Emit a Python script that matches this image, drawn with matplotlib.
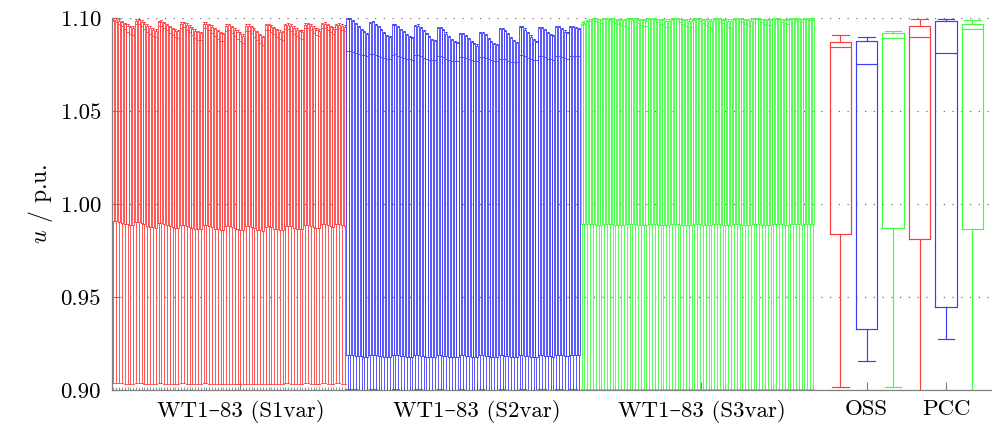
import matplotlib
matplotlib.use('Agg')
import matplotlib.pyplot as plt
import numpy as np

plt.rcParams['font.family'] = ['cmr10', 'DejaVu Serif']
plt.rcParams['mathtext.fontset'] = 'cm'
plt.rcParams['axes.formatter.use_mathtext'] = True

# ---------------- data (p.u.), 83 turbines per scenario ----------------
# S1var (red)
s1_hi = [1.0998, 1.0999, 1.0994, 1.0985, 1.0975, 1.0966, 1.0958, 1.0955,
         1.0992, 1.0995, 1.0988, 1.0978, 1.0965, 1.0955, 1.0946, 1.0940,
         1.0985, 1.0987, 1.0980, 1.0970, 1.0958, 1.0948, 1.0940, 1.0936,
         1.0978, 1.0980, 1.0972, 1.0962, 1.0950, 1.0940, 1.0930, 1.0926,
         1.0976, 1.0978, 1.0970, 1.0960, 1.0948, 1.0936, 1.0926, 1.0921,
         1.0966, 1.0968, 1.0958, 1.0946, 1.0934, 1.0922, 1.0912,
         1.0965, 1.0966, 1.0957, 1.0944, 1.0930, 1.0916, 1.0905,
         1.0968, 1.0970, 1.0962, 1.0952, 1.0942, 1.0935, 1.0932,
         1.0970, 1.0972, 1.0965, 1.0955, 1.0945, 1.0938, 1.0935,
         1.0972, 1.0974, 1.0966, 1.0955, 1.0945, 1.0940,
         1.0974, 1.0976, 1.0968, 1.0958, 1.0950,
         1.0970, 1.0972, 1.0966, 1.0962]
s1_q3 = [1.0990, 1.0991, 1.0986, 1.0977, 1.0967, 1.0958, 1.0950, 1.0947,
         1.0984, 1.0987, 1.0980, 1.0970, 1.0957, 1.0947, 1.0938, 1.0932,
         1.0977, 1.0979, 1.0972, 1.0962, 1.0950, 1.0940, 1.0932, 1.0928,
         1.0970, 1.0972, 1.0964, 1.0954, 1.0942, 1.0932, 1.0922, 1.0918,
         1.0968, 1.0970, 1.0962, 1.0952, 1.0940, 1.0928, 1.0918, 1.0913,
         1.0958, 1.0960, 1.0950, 1.0938, 1.0926, 1.0914, 1.0904,
         1.0957, 1.0958, 1.0949, 1.0936, 1.0922, 1.0908, 1.0897,
         1.0960, 1.0962, 1.0954, 1.0944, 1.0934, 1.0927, 1.0924,
         1.0962, 1.0964, 1.0957, 1.0947, 1.0937, 1.0930, 1.0927,
         1.0964, 1.0966, 1.0958, 1.0947, 1.0937, 1.0932,
         1.0966, 1.0968, 1.0960, 1.0950, 1.0942,
         1.0962, 1.0964, 1.0958, 1.0954]
s1_med = [1.0982, 1.0980, 1.0970, 1.0955, 1.0940, 1.0925, 1.0912, 1.0908,
          1.0966, 1.0968, 1.0958, 1.0942, 1.0926, 1.0912, 1.0902, 1.0898,
          1.0956, 1.0958, 1.0948, 1.0934, 1.0920, 1.0908, 1.0898, 1.0895,
          1.0948, 1.0950, 1.0938, 1.0922, 1.0906, 1.0892, 1.0882, 1.0879,
          1.0944, 1.0946, 1.0934, 1.0918, 1.0902, 1.0888, 1.0878, 1.0874,
          1.0932, 1.0934, 1.0920, 1.0904, 1.0888, 1.0874, 1.0866,
          1.0930, 1.0932, 1.0918, 1.0900, 1.0882, 1.0866, 1.0856,
          1.0936, 1.0938, 1.0926, 1.0912, 1.0898, 1.0888, 1.0884,
          1.0940, 1.0942, 1.0930, 1.0916, 1.0902, 1.0892, 1.0888,
          1.0944, 1.0946, 1.0934, 1.0920, 1.0908, 1.0902,
          1.0946, 1.0948, 1.0936, 1.0922, 1.0914,
          1.0942, 1.0944, 1.0934, 1.0928]
s1_q1 = [0.9909, 0.9908, 0.9904, 0.9899, 0.9894, 0.9890, 0.9887, 0.9886,
         0.9902, 0.9903, 0.9897, 0.9890, 0.9884, 0.9878, 0.9874, 0.9873,
         0.9896, 0.9897, 0.9892, 0.9886, 0.9880, 0.9876, 0.9873, 0.9872,
         0.9888, 0.9889, 0.9884, 0.9878, 0.9872, 0.9868, 0.9866, 0.9865,
         0.9887, 0.9888, 0.9882, 0.9875, 0.9868, 0.9863, 0.9860, 0.9859,
         0.9883, 0.9884, 0.9878, 0.9871, 0.9865, 0.9861, 0.9859,
         0.9882, 0.9883, 0.9877, 0.9869, 0.9862, 0.9858, 0.9856,
         0.9878, 0.9879, 0.9874, 0.9868, 0.9863, 0.9860, 0.9859,
         0.9883, 0.9884, 0.9879, 0.9873, 0.9868, 0.9865, 0.9864,
         0.9887, 0.9888, 0.9882, 0.9876, 0.9871, 0.9869,
         0.9890, 0.9891, 0.9885, 0.9879, 0.9876,
         0.9890, 0.9891, 0.9887, 0.9884]
s1_lo = [0.9037, 0.9037, 0.9036, 0.9035, 0.9034, 0.9034, 0.9033, 0.9033,
         0.9036, 0.9036, 0.9035, 0.9034, 0.9033, 0.9033, 0.9032, 0.9032,
         0.9035, 0.9035, 0.9034, 0.9034, 0.9033, 0.9032, 0.9032, 0.9032,
         0.9035, 0.9035, 0.9034, 0.9033, 0.9032, 0.9032, 0.9031, 0.9031,
         0.9035, 0.9035, 0.9034, 0.9033, 0.9032, 0.9031, 0.9031, 0.9031,
         0.9034, 0.9034, 0.9033, 0.9032, 0.9031, 0.9031, 0.9030,
         0.9034, 0.9034, 0.9033, 0.9032, 0.9031, 0.9030, 0.9030,
         0.9034, 0.9034, 0.9033, 0.9033, 0.9032, 0.9031, 0.9031,
         0.9035, 0.9035, 0.9034, 0.9033, 0.9032, 0.9032, 0.9031,
         0.9035, 0.9035, 0.9034, 0.9033, 0.9033, 0.9032,
         0.9035, 0.9035, 0.9034, 0.9034, 0.9033,
         0.9035, 0.9035, 0.9034, 0.9034]

# S2var (blue)
s2_hi = [1.0998, 1.0999, 1.0990, 1.0975, 1.0958, 1.0942, 1.0928, 1.0920,
         1.0980, 1.0982, 1.0970, 1.0955, 1.0940, 1.0925, 1.0910, 1.0903,
         1.0967, 1.0969, 1.0958, 1.0942, 1.0928, 1.0914, 1.0902, 1.0898,
         1.0963, 1.0965, 1.0952, 1.0936, 1.0918, 1.0902, 1.0889, 1.0883,
         1.0950, 1.0952, 1.0940, 1.0922, 1.0904, 1.0888, 1.0876, 1.0871,
         1.0919, 1.0921, 1.0908, 1.0892, 1.0876, 1.0864, 1.0858,
         1.0925, 1.0927, 1.0912, 1.0895, 1.0878, 1.0866, 1.0860,
         1.0946, 1.0948, 1.0935, 1.0918, 1.0900, 1.0880, 1.0870,
         1.0955, 1.0957, 1.0944, 1.0926, 1.0906, 1.0886, 1.0876,
         1.0952, 1.0954, 1.0940, 1.0925, 1.0912, 1.0907,
         1.0955, 1.0957, 1.0945, 1.0933, 1.0925,
         1.0955, 1.0956, 1.0950, 1.0946]
s2_q3 = [1.0992, 1.0993, 1.0984, 1.0969, 1.0952, 1.0936, 1.0922, 1.0914,
         1.0974, 1.0976, 1.0964, 1.0949, 1.0934, 1.0919, 1.0904, 1.0897,
         1.0961, 1.0963, 1.0952, 1.0936, 1.0922, 1.0908, 1.0896, 1.0892,
         1.0957, 1.0959, 1.0946, 1.0930, 1.0912, 1.0896, 1.0883, 1.0877,
         1.0944, 1.0946, 1.0934, 1.0916, 1.0898, 1.0882, 1.0870, 1.0865,
         1.0913, 1.0915, 1.0902, 1.0886, 1.0870, 1.0858, 1.0852,
         1.0919, 1.0921, 1.0906, 1.0889, 1.0872, 1.0860, 1.0854,
         1.0940, 1.0942, 1.0929, 1.0912, 1.0894, 1.0874, 1.0864,
         1.0949, 1.0951, 1.0938, 1.0920, 1.0900, 1.0880, 1.0870,
         1.0946, 1.0948, 1.0934, 1.0919, 1.0906, 1.0901,
         1.0949, 1.0951, 1.0939, 1.0927, 1.0919,
         1.0949, 1.0950, 1.0944, 1.0940]
s2_med = [1.0821, 1.0820, 1.0815, 1.0810, 1.0805, 1.0801, 1.0799, 1.0798,
          1.0808, 1.0809, 1.0803, 1.0796, 1.0790, 1.0785, 1.0782, 1.0781,
          1.0803, 1.0804, 1.0798, 1.0791, 1.0785, 1.0780, 1.0777, 1.0776,
          1.0799, 1.0800, 1.0794, 1.0787, 1.0781, 1.0776, 1.0773, 1.0772,
          1.0794, 1.0795, 1.0789, 1.0782, 1.0776, 1.0771, 1.0768, 1.0767,
          1.0790, 1.0791, 1.0785, 1.0778, 1.0772, 1.0768, 1.0767,
          1.0790, 1.0791, 1.0785, 1.0778, 1.0772, 1.0768, 1.0767,
          1.0781, 1.0782, 1.0777, 1.0771, 1.0766, 1.0764, 1.0763,
          1.0799, 1.0800, 1.0794, 1.0786, 1.0779, 1.0774, 1.0772,
          1.0794, 1.0795, 1.0789, 1.0782, 1.0778, 1.0776,
          1.0796, 1.0797, 1.0790, 1.0784, 1.0781,
          1.0796, 1.0797, 1.0795, 1.0794]
s2_q1 = [0.9190, 0.9189, 0.9187, 0.9185, 0.9183, 0.9181, 0.9180, 0.9180,
         0.9189, 0.9189, 0.9186, 0.9184, 0.9182, 0.9180, 0.9179, 0.9179,
         0.9188, 0.9188, 0.9186, 0.9183, 0.9181, 0.9179, 0.9178, 0.9178,
         0.9188, 0.9188, 0.9185, 0.9183, 0.9180, 0.9178, 0.9177, 0.9177,
         0.9187, 0.9187, 0.9185, 0.9182, 0.9180, 0.9178, 0.9177, 0.9176,
         0.9187, 0.9187, 0.9184, 0.9181, 0.9179, 0.9177, 0.9176,
         0.9187, 0.9187, 0.9184, 0.9181, 0.9179, 0.9177, 0.9176,
         0.9186, 0.9186, 0.9184, 0.9181, 0.9179, 0.9178, 0.9177,
         0.9187, 0.9187, 0.9185, 0.9182, 0.9180, 0.9178, 0.9178,
         0.9188, 0.9188, 0.9185, 0.9183, 0.9181, 0.9180,
         0.9188, 0.9188, 0.9186, 0.9184, 0.9182,
         0.9188, 0.9188, 0.9187, 0.9186]
s2_lo = [0.9004, 0.9004, 0.9003, 0.9003, 0.9002, 0.9002, 0.9001, 0.9001,
         0.9004, 0.9004, 0.9003, 0.9002, 0.9002, 0.9001, 0.9001, 0.9001,
         0.9003, 0.9003, 0.9003, 0.9002, 0.9002, 0.9001, 0.9001, 0.9001,
         0.9003, 0.9003, 0.9003, 0.9002, 0.9001, 0.9001, 0.9001, 0.9000,
         0.9003, 0.9003, 0.9002, 0.9002, 0.9001, 0.9001, 0.9000, 0.9000,
         0.9003, 0.9003, 0.9002, 0.9002, 0.9001, 0.9001, 0.9000,
         0.9003, 0.9003, 0.9002, 0.9002, 0.9001, 0.9001, 0.9000,
         0.9003, 0.9003, 0.9002, 0.9002, 0.9001, 0.9001, 0.9001,
         0.9003, 0.9003, 0.9003, 0.9002, 0.9002, 0.9001, 0.9001,
         0.9003, 0.9003, 0.9003, 0.9002, 0.9002, 0.9001,
         0.9003, 0.9003, 0.9003, 0.9002, 0.9002,
         0.9003, 0.9003, 0.9003, 0.9002]

# S3var (green)
s3_hi = [1.0976, 1.0983, 1.0991, 1.0996, 1.0998, 1.0998, 1.0997, 1.0997,
         1.0998, 1.0999, 1.0998, 1.0998, 1.0997, 1.0997, 1.0996, 1.0996,
         1.0998, 1.0999, 1.0998, 1.0998, 1.0997, 1.0996, 1.0996, 1.0995,
         1.0998, 1.0999, 1.0998, 1.0997, 1.0997, 1.0996, 1.0995, 1.0995,
         1.0998, 1.0999, 1.0998, 1.0997, 1.0996, 1.0996, 1.0995, 1.0994,
         1.0998, 1.0999, 1.0998, 1.0997, 1.0996, 1.0995, 1.0994,
         1.0998, 1.0999, 1.0998, 1.0997, 1.0996, 1.0995, 1.0994,
         1.0998, 1.0999, 1.0998, 1.0997, 1.0997, 1.0996, 1.0995,
         1.0998, 1.0999, 1.0998, 1.0997, 1.0997, 1.0996, 1.0996,
         1.0998, 1.0999, 1.0998, 1.0997, 1.0997, 1.0996,
         1.0998, 1.0999, 1.0998, 1.0998, 1.0997,
         1.0998, 1.0999, 1.0998, 1.0998]
s3_q3 = [1.0968, 1.0975, 1.0985, 1.0992, 1.0995, 1.0994, 1.0992, 1.0991,
         1.0996, 1.0997, 1.0995, 1.0994, 1.0992, 1.0990, 1.0988, 1.0987,
         1.0996, 1.0997, 1.0995, 1.0993, 1.0991, 1.0989, 1.0987, 1.0986,
         1.0996, 1.0997, 1.0995, 1.0993, 1.0990, 1.0988, 1.0986, 1.0985,
         1.0996, 1.0997, 1.0995, 1.0992, 1.0989, 1.0987, 1.0985, 1.0984,
         1.0996, 1.0997, 1.0994, 1.0991, 1.0988, 1.0985, 1.0983,
         1.0996, 1.0997, 1.0994, 1.0991, 1.0988, 1.0985, 1.0983,
         1.0996, 1.0997, 1.0995, 1.0992, 1.0989, 1.0987, 1.0986,
         1.0996, 1.0997, 1.0995, 1.0993, 1.0990, 1.0988, 1.0987,
         1.0996, 1.0997, 1.0995, 1.0993, 1.0991, 1.0990,
         1.0996, 1.0997, 1.0995, 1.0994, 1.0993,
         1.0996, 1.0997, 1.0996, 1.0995]
s3_med = [1.0960, 1.0968, 1.0978, 1.0985, 1.0988, 1.0985, 1.0978, 1.0972,
          1.0992, 1.0993, 1.0988, 1.0982, 1.0974, 1.0966, 1.0960, 1.0958,
          1.0992, 1.0993, 1.0988, 1.0981, 1.0972, 1.0964, 1.0958, 1.0956,
          1.0992, 1.0993, 1.0987, 1.0979, 1.0970, 1.0961, 1.0954, 1.0952,
          1.0991, 1.0992, 1.0986, 1.0977, 1.0967, 1.0958, 1.0951, 1.0949,
          1.0991, 1.0992, 1.0985, 1.0975, 1.0964, 1.0954, 1.0948,
          1.0991, 1.0992, 1.0985, 1.0975, 1.0964, 1.0954, 1.0948,
          1.0991, 1.0992, 1.0986, 1.0977, 1.0967, 1.0960, 1.0957,
          1.0992, 1.0993, 1.0987, 1.0979, 1.0970, 1.0963, 1.0960,
          1.0992, 1.0993, 1.0987, 1.0979, 1.0972, 1.0968,
          1.0992, 1.0993, 1.0988, 1.0982, 1.0977,
          1.0992, 1.0993, 1.0990, 1.0987]
s3_q1 = [0.9893, 0.9893, 0.9892, 0.9891, 0.9890, 0.9889, 0.9888, 0.9888,
         0.9893, 0.9893, 0.9891, 0.9890, 0.9889, 0.9888, 0.9887, 0.9887,
         0.9892, 0.9892, 0.9891, 0.9890, 0.9888, 0.9887, 0.9887, 0.9886,
         0.9892, 0.9892, 0.9891, 0.9889, 0.9888, 0.9887, 0.9886, 0.9886,
         0.9892, 0.9892, 0.9890, 0.9889, 0.9888, 0.9887, 0.9886, 0.9886,
         0.9892, 0.9892, 0.9890, 0.9889, 0.9887, 0.9886, 0.9885,
         0.9892, 0.9892, 0.9890, 0.9889, 0.9887, 0.9886, 0.9885,
         0.9892, 0.9892, 0.9890, 0.9889, 0.9888, 0.9887, 0.9886,
         0.9892, 0.9892, 0.9891, 0.9889, 0.9888, 0.9887, 0.9887,
         0.9892, 0.9892, 0.9891, 0.9890, 0.9889, 0.9888,
         0.9893, 0.9893, 0.9891, 0.9890, 0.9889,
         0.9893, 0.9893, 0.9892, 0.9891]
s3_lo = [0.9008, 0.9008, 0.9007, 0.9007, 0.9006, 0.9006, 0.9005, 0.9005,
         0.9007, 0.9007, 0.9007, 0.9006, 0.9006, 0.9005, 0.9005, 0.9005,
         0.9007, 0.9007, 0.9006, 0.9006, 0.9005, 0.9005, 0.9004, 0.9004,
         0.9007, 0.9007, 0.9006, 0.9006, 0.9005, 0.9005, 0.9004, 0.9004,
         0.9007, 0.9007, 0.9006, 0.9005, 0.9005, 0.9004, 0.9004, 0.9004,
         0.9007, 0.9007, 0.9006, 0.9005, 0.9005, 0.9004, 0.9004,
         0.9007, 0.9007, 0.9006, 0.9005, 0.9005, 0.9004, 0.9004,
         0.9007, 0.9007, 0.9006, 0.9006, 0.9005, 0.9005, 0.9004,
         0.9007, 0.9007, 0.9006, 0.9006, 0.9005, 0.9005, 0.9005,
         0.9007, 0.9007, 0.9006, 0.9006, 0.9005, 0.9005,
         0.9007, 0.9007, 0.9007, 0.9006, 0.9006,
         0.9007, 0.9007, 0.9007, 0.9006]

# OSS and PCC, order: S1var, S2var, S3var
oss_hi = [1.0910, 1.0898, 1.0932]
oss_q3 = [1.0871, 1.0875, 1.0918]
oss_med = [1.0843, 1.0753, 1.0891]
oss_q1 = [0.9837, 0.9326, 0.9869]
oss_lo = [0.9018, 0.9158, 0.9014]

pcc_hi = [1.0995, 1.0996, 1.0991]
pcc_q3 = [1.0959, 1.0986, 1.0966]
pcc_med = [1.0896, 1.0813, 1.0943]
pcc_q1 = [0.9813, 0.9446, 0.9867]
pcc_lo = [0.8990, 0.9276, 0.8990]

tick_labels = ['WT1–83 (S1var)', 'WT1–83 (S2var)', 'WT1–83 (S3var)', 'OSS', 'PCC']

colors = ['#ff3c3c', '#3c3cff', '#3cff3c']


def make_stats(lo, q1, med, q3, hi):
    return [dict(whislo=a, q1=b, med=c, q3=d, whishi=e, fliers=[])
            for a, b, c, d, e in zip(lo, q1, med, q3, hi)]


def draw(ax, stats, pos, col, width, lw):
    props = dict(color=col, linewidth=lw)
    ax.bxp(stats, positions=pos, widths=width, capwidths=width * 0.78 if width > 2 else width,
           showfliers=False, manage_ticks=False,
           boxprops=props, whiskerprops=props, capprops=props,
           medianprops=props)


fig = plt.figure(figsize=(9.92, 4.28), dpi=100)
ax = fig.add_axes([0.1129, 0.0888, 0.8871, 0.8692])

# turbine boxes
n = len(s1_hi)
wt_sets = [(s1_lo, s1_q1, s1_med, s1_q3, s1_hi),
           (s2_lo, s2_q1, s2_med, s2_q3, s2_hi),
           (s3_lo, s3_q1, s3_med, s3_q3, s3_hi)]
wt_pos = []
for k, vals in enumerate(wt_sets):
    pos = np.arange(n) + 0.5 + k * n
    wt_pos.extend(pos)
    draw(ax, make_stats(*vals), pos, colors[k], 0.72, 0.6)

# OSS / PCC boxes
node_pos = 258.2 + 9.37 * np.arange(6)
oss = make_stats(oss_lo, oss_q1, oss_med, oss_q3, oss_hi)
pcc = make_stats(pcc_lo, pcc_q1, pcc_med, pcc_q3, pcc_hi)
for i, st in enumerate(oss + pcc):
    draw(ax, [st], [node_pos[i]], colors[i % 3], 7.6, 0.85)

ax.set_xlim(0, 312)
ax.set_ylim(0.90, 1.10)
ax.set_yticks([0.90, 0.95, 1.00, 1.05, 1.10])
ax.yaxis.set_major_formatter(plt.FormatStrFormatter('%.2f'))

ax.set_xticks([45.5, 129.5, 209.0, node_pos[1], node_pos[4]])
ax.set_xticklabels(tick_labels)
ax.set_xticks(wt_pos, minor=True)

ax.tick_params(axis='both', which='major', direction='in', color='#808080',
               labelsize=16.5, length=6, width=0.8)
ax.tick_params(axis='x', which='minor', direction='in', color='#808080',
               length=2.5, width=0.6)
ax.tick_params(axis='x', which='major', pad=7)
ax.tick_params(axis='y', which='major', pad=8)

for s in ['top', 'right']:
    ax.spines[s].set_visible(False)
for s in ['left', 'bottom']:
    ax.spines[s].set_color('#808080')
    ax.spines[s].set_linewidth(0.9)

ax.yaxis.grid(True, linestyle=(0, (1, 6)), color='#707070', linewidth=0.9)
ax.set_axisbelow(True)

ax.set_ylabel(r'$u$ / p.u.', fontsize=17, labelpad=4)

fig.savefig('out.png', dpi=100)
